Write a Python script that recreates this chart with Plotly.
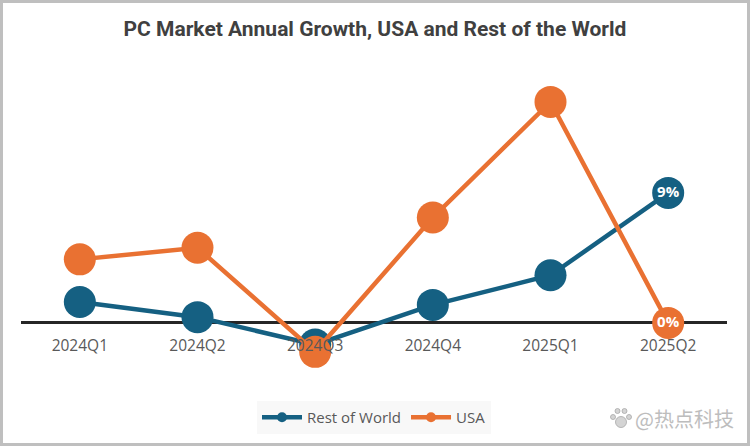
import plotly.graph_objects as go

quarters = ['2024Q1', '2024Q2', '2024Q3', '2024Q4', '2025Q1', '2025Q2']
rest_of_world = [1.45, 0.4, -1.5, 1.25, 3.3, 9.0]
usa = [4.4, 5.2, -2.0, 7.3, 15.3, 0.0]
row_labels = ['', '', '', '', '', '9%']
usa_labels = ['', '', '', '', '', '0%']

BLUE = '#156082'
ORANGE = '#E97132'
W, H = 750, 446
L, R, T, B = 21, 23, 60, 66
PLOT_W, PLOT_H = W - L - R, H - T - B


def px(x):
    return (x - L) / PLOT_W


def py(y):
    return (H - B - y) / PLOT_H


def dot(cx, cy, r):
    # small circle for the watermark's paw
    return dict(type='circle', xref='paper', yref='paper', x0=px(cx - r), x1=px(cx + r),
                y0=py(cy + r), y1=py(cy - r), fillcolor='#D4D4D4', line=dict(color='#A8A8A8', width=0.8))


fig = go.Figure()

# big markers on the chart, small ones in the legend
for name, vals, labels, color in [('Rest of World', rest_of_world, row_labels, BLUE),
                                  ('USA', usa, usa_labels, ORANGE)]:
    fig.add_trace(go.Scatter(x=quarters, y=vals, mode='lines+markers+text', name=name,
                             text=labels, textposition='middle center',
                             textfont=dict(family='Open Sans', size=15, color='white', weight='bold'),
                             line=dict(color=color, width=4.5),
                             marker=dict(color=color, size=32),
                             showlegend=False, cliponaxis=False, hoverinfo='skip'))
    fig.add_trace(go.Scatter(x=[None], y=[None], mode='lines+markers', name=name,
                             line=dict(color=color, width=4.5),
                             marker=dict(color=color, size=10)))

fig.update_layout(
    width=W, height=H,
    margin=dict(l=L, r=R, t=T, b=B),
    paper_bgcolor='white', plot_bgcolor='white',
    font=dict(family='Open Sans', color='#595959', size=15.5),
    title=dict(text='<b>PC Market Annual Growth, USA and Rest of the World</b>',
               x=0.5, xanchor='center', y=0.935, yanchor='middle',
               font=dict(family='Roboto', size=21, color='#404040')),
    legend=dict(orientation='h', x=0.5, xanchor='center', y=py(401), yanchor='top',
                bgcolor='#F8F8F8', itemwidth=40, font=dict(size=15, color='#595959')),
    xaxis=dict(type='category', range=[-0.5, 5.5], showgrid=False, showline=False,
               anchor='free', position=0.178, ticks='', layer='above traces', ticklabelstandoff=11),
    yaxis=dict(range=[-3.95, 18.2], showgrid=False, showticklabels=False, ticks='',
               zeroline=True, zerolinecolor='#262626', zerolinewidth=2.5),
    shapes=[dict(type='rect', xref='paper', yref='paper',
                 x0=px(1.5), x1=px(W - 1.5), y0=py(H - 1.5), y1=py(1.5),
                 line=dict(color='#BFBFBF', width=3), layer='below'),
            dot(621, 422, 5.5), dot(613, 417, 2.5), dot(617.5, 411, 2.5),
            dot(624.5, 411, 2.5), dot(629, 417, 2.5)],
    annotations=[dict(text='@热点科技', xref='paper', yref='paper', x=px(736), xanchor='right',
                      y=py(418), yanchor='middle', showarrow=False,
                      font=dict(family='Noto Sans CJK SC', size=20, color='#BDBDBD'))],
)

# page has a default 8px body margin, the reference has none
fig.write_html('out.html', config=dict(displayModeBar=False),
               post_script="document.body.style.margin='0';")
